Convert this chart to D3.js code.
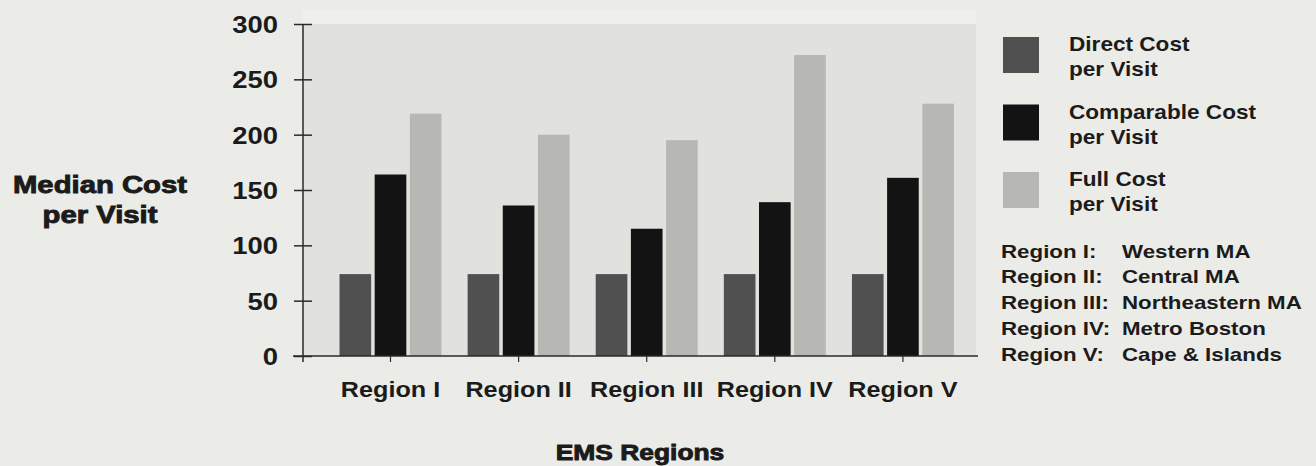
<!DOCTYPE html>
<html>
<head>
<meta charset="utf-8">
<script src="https://cdn.jsdelivr.net/npm/d3@7"></script>
<style>
  html, body { margin: 0; padding: 0; background: #ebebe8; }
  svg { display: block; font-family: "Liberation Sans", Arial, Helvetica, sans-serif; }
</style>
</head>
<body>
<svg id="chart" width="1316" height="466"></svg>
<script>
// Median cost per visit by EMS region
const regions = ["Region I", "Region II", "Region III", "Region IV", "Region V"];
const seriesKeys = ["direct", "comparable", "full"];
const directCost = [74, 74, 74, 74, 74];
const comparableCost = [164, 136, 115, 139, 161];
const fullCost = [219, 200, 195, 272, 228];
const yTicks = [0, 50, 100, 150, 200, 250, 300];
const legendLabels = [["Direct Cost", "per Visit"], ["Comparable Cost", "per Visit"], ["Full Cost", "per Visit"]];
const regionNames = [
  ["Region I:", "Western MA"],
  ["Region II:", "Central MA"],
  ["Region III:", "Northeastern MA"],
  ["Region IV:", "Metro Boston"],
  ["Region V:", "Cape & Islands"]
];
const yTitle = ["Median Cost", "per Visit"];
const xTitle = "EMS Regions";

const colors = { direct: "#505050", comparable: "#131313", full: "#b7b7b4" };
const ink = "#1b1b1b";

const table = regions.map((r, i) => ({
  region: r,
  direct: directCost[i],
  comparable: comparableCost[i],
  full: fullCost[i]
}));

const svg = d3.select("#chart");

const plot = { left: 303, right: 976, top: 24, bottom: 356 };

const y = d3.scaleLinear().domain([0, 300]).range([plot.bottom, plot.top]);
const x0 = d3.scaleBand().domain(regions).range([plot.left, 978])
  .paddingInner(0.149).paddingOuter(0.209).align(0.616);
const x1 = d3.scaleBand().domain(seriesKeys).range([0, x0.bandwidth()]).padding(0.1);

// helper: horizontally widened bold text
function wideText(sel, x, yPos, str, size, sx, anchor, weight) {
  const t = sel.append("text")
    .attr("transform", `translate(${x},${yPos}) scale(${sx},1)`)
    .attr("text-anchor", anchor || "start")
    .attr("font-size", size)
    .attr("font-weight", "bold")
    .attr("fill", ink)
    .text(str);
  if (weight === "heavy") t.attr("stroke", ink).attr("stroke-width", 0.9);
  return t;
}

// plot background
svg.append("rect")
  .attr("x", plot.left).attr("y", plot.top - 14)
  .attr("width", plot.right - plot.left).attr("height", 14)
  .attr("fill", "#efefed");
svg.append("rect")
  .attr("x", plot.left).attr("y", plot.top)
  .attr("width", plot.right - plot.left).attr("height", plot.bottom - plot.top)
  .attr("fill", "#e1e1de");

// bars
const groups = svg.append("g").selectAll("g")
  .data(table).join("g")
  .attr("transform", d => `translate(${x0(d.region)},0)`);
groups.selectAll("rect")
  .data(d => seriesKeys.map(k => ({ key: k, value: d[k] })))
  .join("rect")
  .attr("x", d => x1(d.key))
  .attr("y", d => y(d.value))
  .attr("width", x1.bandwidth())
  .attr("height", d => y(0) - y(d.value))
  .attr("fill", d => colors[d.key]);

// y axis
const yAxis = svg.append("g")
  .attr("transform", `translate(${plot.left},0)`)
  .call(d3.axisLeft(y).tickValues(yTicks).tickSize(9).tickFormat(d3.format("d")));
yAxis.select(".domain").remove();
yAxis.selectAll(".tick line").attr("x1", -9).attr("x2", 9).attr("stroke", "#2a2a2a").attr("stroke-width", 1.5);
yAxis.selectAll(".tick text")
  .attr("x", null).attr("dy", null)
  .attr("transform", "translate(-25,8.5) scale(1.12,1)")
  .attr("font-size", 24.5).attr("font-weight", "bold").attr("fill", ink)
  .attr("font-family", "Liberation Sans, Arial, sans-serif");
svg.append("line")
  .attr("x1", plot.left).attr("x2", plot.left)
  .attr("y1", plot.top).attr("y2", plot.bottom + 6)
  .attr("stroke", "#2a2a2a").attr("stroke-width", 1.5);

// x axis
const xAxis = svg.append("g")
  .attr("transform", `translate(0,${plot.bottom})`)
  .call(d3.axisBottom(x0).tickSize(6).tickSizeOuter(0));
xAxis.select(".domain").remove();
xAxis.selectAll(".tick line").attr("stroke", "#2a2a2a").attr("stroke-width", 1.2);
xAxis.selectAll(".tick text")
  .attr("y", null).attr("dy", null)
  .attr("transform", "translate(0,41) scale(1.12,1)")
  .attr("font-size", 22.5).attr("font-weight", "bold").attr("fill", ink)
  .attr("font-family", "Liberation Sans, Arial, sans-serif");
svg.append("line")
  .attr("x1", 293).attr("x2", 978)
  .attr("y1", plot.bottom).attr("y2", plot.bottom)
  .attr("stroke", "#2a2a2a").attr("stroke-width", 1.5);

// axis titles
wideText(svg, 100, 193, yTitle[0], 24, 1.22, "middle", "heavy");
wideText(svg, 100, 223, yTitle[1], 24, 1.22, "middle", "heavy");
wideText(svg, 640, 460, xTitle, 22, 1.2, "middle", "heavy");

// series legend
const legend = svg.append("g");
seriesKeys.forEach((k, i) => {
  const top = 37 + i * 67.5;
  legend.append("rect")
    .attr("x", 1003).attr("y", top).attr("width", 36).attr("height", 36)
    .attr("fill", colors[k]);
  wideText(legend, 1069, top + 14, legendLabels[i][0], 20, 1.13, "start");
  wideText(legend, 1069, top + 39, legendLabels[i][1], 20, 1.13, "start");
});

// region key
const key = svg.append("g");
regionNames.forEach((r, i) => {
  const yy = 257.5 + i * 25.8;
  wideText(key, 1001, yy, r[0], 18, 1.24, "start");
  wideText(key, 1122, yy, r[1], 18, 1.24, "start");
});
</script>
</body>
</html>
